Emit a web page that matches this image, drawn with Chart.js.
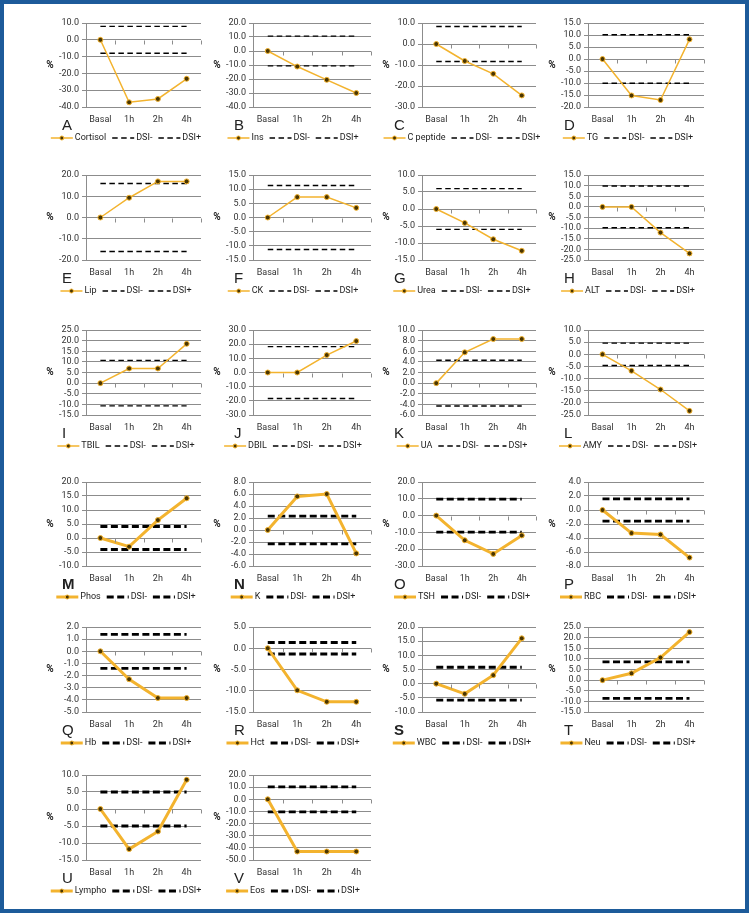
<!DOCTYPE html>
<html>
<head>
<meta charset="utf-8">
<script src="https://cdn.jsdelivr.net/npm/chart.js@4.4.1/dist/chart.umd.min.js"></script>
<style>
    body { margin: 0; background: #fff; }
    #page { position: relative; width: 749px; height: 913px; overflow: hidden; background: #fff; }
    #frame { position: absolute; left: 0; top: 0; width: 749px; height: 913px; box-sizing: border-box; border: 4px solid #1d5b9a; pointer-events: none; }
    canvas { position: absolute; }
</style>
</head>
<body>
<div id="page"><div id="frame"></div></div>
<script>
var categories = ['Basal', '1h', '2h', '4h'];
var letters = ['A', 'B', 'C', 'D', 'E', 'F', 'G', 'H', 'I', 'J', 'K', 'L', 'M', 'N', 'O', 'P', 'Q', 'R', 'S', 'T', 'U', 'V'];
var analytes = ['Cortisol', 'Ins', 'C peptide', 'TG', 'Lip', 'CK', 'Urea', 'ALT', 'TBIL', 'DBIL', 'UA', 'AMY',
    'Phos', 'K', 'TSH', 'RBC', 'Hb', 'Hct', 'WBC', 'Neu', 'Lympho', 'Eos'];

// % change from basal
var cortisol = [0, -37.2, -35.2, -23.2];
var ins = [0, -11.1, -20.6, -30.0];
var cPeptide = [0, -8.1, -14.2, -24.5];
var tg = [0, -15.2, -17.1, 8.2];
var lip = [0, 9.3, 17.0, 17.0];
var ck = [0, 7.2, 7.2, 3.4];
var urea = [0, -4.1, -8.9, -12.3];
var alt = [0, 0, -12.1, -21.9];
var tbil = [0, 6.9, 6.9, 18.5];
var dbil = [0, 0, 12.3, 22.2];
var ua = [0, 5.8, 8.3, 8.3];
var amy = [0, -6.8, -14.5, -23.3];
var phos = [0, -3.1, 6.4, 14.2];
var potassium = [0, 5.6, 6.0, -3.9];
var tsh = [0, -14.7, -22.8, -11.8];
var rbc = [0, -3.3, -3.5, -6.8];
var hb = [0, -2.3, -3.85, -3.85];
var hct = [0, -9.9, -12.6, -12.6];
var wbc = [0, -3.6, 3.0, 16.0];
var neu = [0, 3.2, 10.6, 22.6];
var lympho = [0, -11.8, -6.6, 8.6];
var eos = [0, -43.0, -43.0, -43.0];

var series = [cortisol, ins, cPeptide, tg, lip, ck, urea, alt, tbil, dbil, ua, amy,
    phos, potassium, tsh, rbc, hb, hct, wbc, neu, lympho, eos];

// DSI limits (+/-)
var dsi = [8, 10.6, 8.3, 10.1, 16, 11.3, 6, 9.8, 10.7, 18.3, 4.3, 4.6,
    4.1, 2.3, 9.8, 1.6, 1.4, 1.35, 5.8, 8.6, 5, 10.3];

// axis ticks
var yMin = [-40, -40, -30, -20, -20, -15, -15, -25, -15, -30, -6, -25, -10, -6, -30, -8, -5, -15, -10, -15, -15, -50];
var yMax = [10, 20, 10, 15, 20, 15, 10, 15, 25, 30, 10, 10, 20, 8, 20, 4, 2, 5, 20, 25, 10, 20];
var yStep = [10, 10, 10, 5, 10, 5, 5, 5, 5, 10, 2, 5, 5, 2, 10, 2, 1, 5, 5, 5, 5, 10];

// layout of the plot areas
var colLeft = [86, 253, 422, 588];
var colRight = [201, 371, 536, 704];
var rowTop = [23, 175, 330, 482, 627, 775];
var rowBottom = [107, 260, 415, 566, 712, 860];
var letterDx = [-24, -19, -28, -24];

var GOLD = '#F3B32E';
var GRID = '#8c8c8c';
var FONT = "'Liberation Sans Narrow', Roboto, sans-serif";
var AXIS_W = 48, PAD_TOP = 10, BOTTOM_H = 42, PAD_RIGHT = 24;

var panelDecor = {
    id: 'panelDecor',
    afterDraw: function (chart, args, opts) {
        var ctx = chart.ctx;
        var area = chart.chartArea;
        var xs = chart.scales.x, ys = chart.scales.y;
        ctx.save();

        // horizontal axis crosses at zero, with small tick marks
        var y0 = Math.round(ys.getPixelForValue(0)) + 0.5;
        ctx.strokeStyle = GRID;
        ctx.lineWidth = 1;
        ctx.beginPath();
        for (var i = 0; i <= categories.length; i++) {
            var xp = Math.round(xs.getPixelForValue(i - 0.5)) + 0.5;
            ctx.moveTo(xp, y0);
            ctx.lineTo(xp, y0 + 4);
        }
        ctx.stroke();

        ctx.fillStyle = '#222';
        ctx.textBaseline = 'middle';
        ctx.font = 'bold 10px ' + FONT;
        ctx.textAlign = 'center';
        ctx.fillText('%', area.left - 36, (area.top + area.bottom) / 2);

        ctx.font = (opts.bold ? 'bold ' : '') + '15px ' + "'Liberation Sans', 'DejaVu Sans', sans-serif";
        ctx.textAlign = 'left';
        ctx.fillText(opts.letter, area.left + opts.letterDx, area.bottom + 19);

        // legend
        ctx.font = '9px ' + FONT;
        var sample = 22, gap = 2, spacing = 6;
        var dsets = chart.data.datasets;
        var widths = dsets.map(function (ds) { return sample + gap + ctx.measureText(ds.label).width; });
        var total = widths.reduce(function (a, b) { return a + b; }, 0) + spacing * (dsets.length - 1);
        var lx = area.left + 40 - total / 2;
        var ly = area.bottom + 31;
        dsets.forEach(function (ds, k) {
            ctx.strokeStyle = ds.borderColor;
            ctx.lineWidth = ds.borderWidth;
            ctx.setLineDash(ds.borderDash || []);
            ctx.beginPath();
            ctx.moveTo(lx, ly);
            ctx.lineTo(lx + sample, ly);
            ctx.stroke();
            ctx.setLineDash([]);
            if (ds.pointRadius > 0) {
                ctx.beginPath();
                ctx.arc(lx + sample / 2, ly, 2, 0, Math.PI * 2);
                ctx.fillStyle = ds.pointBackgroundColor;
                ctx.fill();
                ctx.lineWidth = 1;
                ctx.strokeStyle = ds.pointBorderColor;
                ctx.stroke();
            }
            ctx.fillStyle = '#222';
            ctx.fillText(ds.label, lx + sample + gap, ly);
            lx += widths[k] + spacing;
        });
        ctx.restore();
    }
};

var page = document.getElementById('page');

for (var p = 0; p < series.length; p++) {
    var col = p % 4, row = Math.floor(p / 4);
    var thick = row >= 3;
    var canvas = document.createElement('canvas');
    var w = colRight[col] - colLeft[col] + AXIS_W + PAD_RIGHT;
    var h = rowBottom[row] - rowTop[row] + PAD_TOP + BOTTOM_H;
    canvas.width = w;
    canvas.height = h;
    canvas.style.left = (colLeft[col] - AXIS_W) + 'px';
    canvas.style.top = (rowTop[row] - PAD_TOP) + 'px';
    canvas.style.width = w + 'px';
    canvas.style.height = h + 'px';
    page.insertBefore(canvas, document.getElementById('frame'));

    var lim = dsi[p];
    var dash = thick ? [7, 3.5] : [5.5, 3.5];
    var dashW = thick ? 2.8 : 1.4;

    new Chart(canvas, {
        type: 'line',
        data: {
            labels: categories,
            datasets: [
                {
                    label: analytes[p],
                    data: series[p],
                    borderColor: GOLD,
                    borderWidth: thick ? 3 : 1.5,
                    pointRadius: 2.5,
                    pointBackgroundColor: '#4a3500',
                    pointBorderColor: GOLD,
                    pointBorderWidth: 1,
                    tension: 0
                },
                {
                    label: 'DSI-',
                    data: categories.map(function () { return -lim; }),
                    borderColor: '#000',
                    borderWidth: dashW,
                    borderDash: dash,
                    pointRadius: 0
                },
                {
                    label: 'DSI+',
                    data: categories.map(function () { return lim; }),
                    borderColor: '#000',
                    borderWidth: dashW,
                    borderDash: dash,
                    pointRadius: 0
                }
            ]
        },
        options: {
            responsive: false,
            animation: false,
            devicePixelRatio: 1,
            layout: { padding: { top: PAD_TOP, right: PAD_RIGHT, left: 0, bottom: 0 } },
            plugins: {
                legend: { display: false },
                tooltip: { enabled: false },
                panelDecor: { letter: letters[p], letterDx: letterDx[col], bold: ['M', 'N', 'S'].indexOf(letters[p]) >= 0 }
            },
            scales: {
                x: {
                    offset: true,
                    grid: { display: false, drawTicks: false },
                    border: { display: false },
                    ticks: { padding: 7, autoSkip: false, maxRotation: 0, color: '#333', font: { family: FONT, size: 9 } },
                    afterFit: function (s) { s.height = BOTTOM_H; }
                },
                y: {
                    min: yMin[p],
                    max: yMax[p],
                    grid: { color: GRID, tickLength: 4 },
                    border: { color: GRID },
                    ticks: {
                        stepSize: yStep[p],
                        autoSkip: false,
                        padding: 3,
                        color: '#333',
                        font: { family: FONT, size: 9 },
                        callback: function (v) { return Number(v).toFixed(1); }
                    },
                    afterFit: function (s) { s.width = AXIS_W; }
                }
            }
        },
        plugins: [panelDecor]
    });
}
</script>
</body>
</html>
